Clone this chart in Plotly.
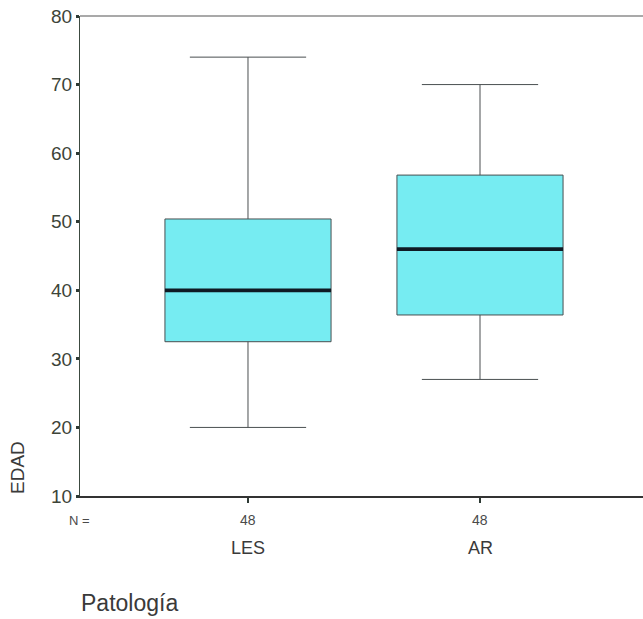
import plotly.graph_objects as go

# Data
categories = ["LES", "AR"]
n_counts = [48, 48]
lower_whisker = [20, 27]
q1_values = [32.5, 36.4]
median_values = [40, 46]
q3_values = [50.4, 56.8]
upper_whisker = [74, 70]
y_ticks = [10, 20, 30, 40, 50, 60, 70, 80]

positions = list(range(len(categories)))
box_width = 0.716

fig = go.Figure()

fig.add_trace(go.Box(
    x=positions,
    q1=q1_values,
    median=median_values,
    q3=q3_values,
    lowerfence=lower_whisker,
    upperfence=upper_whisker,
    width=box_width,
    whiskerwidth=0.7,
    fillcolor="rgb(118,236,242)",
    line=dict(color="#4a4f50", width=1),
    boxpoints=False,
    hoverinfo="skip",
    showlegend=False,
))

# thick median lines derived from the data
for i, m in zip(positions, median_values):
    fig.add_trace(go.Scatter(
        x=[i - box_width / 2, i + box_width / 2],
        y=[m, m],
        mode="lines",
        line=dict(color="#0f1a24", width=3.8),
        hoverinfo="skip",
        showlegend=False,
    ))

font_family = "Liberation Sans, Arial, sans-serif"
W, H = 643, 619
L, T, B = 80, 16, 123
plot_top, plot_bottom = T, H - B
plot_w = W - L

fig.update_layout(
    width=W,
    height=H,
    margin=dict(l=L, r=0, t=T, b=B),
    paper_bgcolor="white",
    plot_bgcolor="white",
    font=dict(family=font_family, color="#333333"),
    xaxis=dict(
        range=[-0.7241, 1.7026],
        tickmode="array",
        tickvals=positions,
        showticklabels=False,
        ticks="outside",
        ticklen=5,
        tickwidth=2,
        tickcolor="#2e3a34",
        showline=True,
        linecolor="#333333",
        linewidth=1.5,
        showgrid=False,
        zeroline=False,
        fixedrange=True,
    ),
    yaxis=dict(
        range=[10, 80],
        tickmode="array",
        tickvals=y_ticks,
        tickfont=dict(size=19, color="#3d4438"),
        ticks="outside",
        ticklen=3,
        tickwidth=3,
        tickcolor="#2e3a34",
        showline=True,
        linecolor="#3c4a40",
        linewidth=1,
        showgrid=False,
        zeroline=False,
        fixedrange=True,
    ),
    shapes=[dict(
        type="line", xref="paper", yref="paper",
        x0=0, x1=1, y0=1, y1=1,
        line=dict(color="#555555", width=1.2),
    )],
)

def py(ypx):
    return (plot_bottom - ypx) / (plot_bottom - plot_top)

def px(xpx):
    return (xpx - L) / plot_w

for i, c, n in zip(positions, categories, n_counts):
    fig.add_annotation(x=i, xref="x", y=py(520), yref="paper", text=str(n),
                       showarrow=False, yanchor="middle",
                       font=dict(size=14, color="#4a4a4a", family=font_family))
    fig.add_annotation(x=i, xref="x", y=py(548), yref="paper", text=c,
                       showarrow=False, yanchor="middle",
                       font=dict(size=18, color="#3a3a3a", family=font_family))

fig.add_annotation(x=px(79), xref="paper", y=py(520), yref="paper",
                   text="N =", showarrow=False, xanchor="center", yanchor="middle",
                   font=dict(size=13, color="#4a4a4a", family=font_family))
fig.add_annotation(x=px(79), xref="paper", y=py(603), yref="paper",
                   text="Patología", showarrow=False, xanchor="left", yanchor="middle",
                   font=dict(size=23, color="#3a3a3a", family=font_family))
fig.add_annotation(x=px(17), xref="paper", y=py(468), yref="paper",
                   text="EDAD", showarrow=False, textangle=-90,
                   xanchor="center", yanchor="middle",
                   font=dict(size=19, color="#3a3a3a", family=font_family))

fig.write_html(
    "out.html",
    config={"displayModeBar": False},
    post_script="document.body.style.margin='0';document.body.style.overflow='hidden';",
)
